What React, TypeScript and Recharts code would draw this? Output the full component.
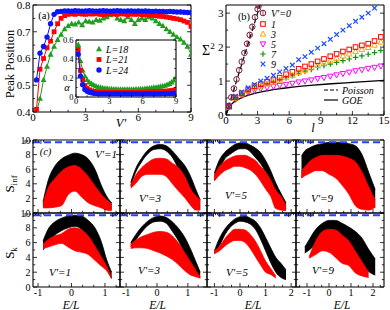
import React from 'react';
import { ComposedChart, Scatter, Line, Area, XAxis, YAxis, ReferenceLine, CartesianGrid } from 'recharts';

const FONT = '"Liberation Serif", "Times New Roman", serif';

// ---------- (a) peak position vs V' ----------
const V_GRID = [0.2, 0.4, 0.6, 0.8, 1.0, 1.2, 1.4, 1.6, 1.8, 2.0, 2.2, 2.4, 2.6, 2.8, 3.0, 3.2, 3.4, 3.6, 3.8, 4.0, 4.2, 4.4, 4.6, 4.8, 5.0, 5.2, 5.4, 5.6, 5.8, 6.0, 6.2, 6.4, 6.6, 6.8, 7.0, 7.2, 7.4, 7.6, 7.8, 8.0, 8.2, 8.4, 8.6, 8.8, 9.0];
const PEAK_L18 = [0.40, 0.45, 0.52, 0.57, 0.615, 0.645, 0.67, 0.69, 0.71, 0.722, 0.73, 0.728, 0.735, 0.725, 0.74, 0.738, 0.735, 0.745, 0.742, 0.75, 0.755, 0.762, 0.768, 0.75, 0.745, 0.74, 0.755, 0.745, 0.73, 0.745, 0.75, 0.745, 0.755, 0.75, 0.74, 0.73, 0.722, 0.71, 0.70, 0.69, 0.68, 0.672, 0.66, 0.645, 0.615];
const PEAK_L21 = [0.41, 0.56, 0.60, 0.64, 0.665, 0.70, 0.73, 0.75, 0.76, 0.765, 0.767, 0.765, 0.768, 0.766, 0.765, 0.767, 0.766, 0.768, 0.765, 0.764, 0.766, 0.768, 0.766, 0.765, 0.767, 0.766, 0.764, 0.766, 0.765, 0.766, 0.764, 0.763, 0.762, 0.762, 0.76, 0.758, 0.757, 0.755, 0.753, 0.75, 0.748, 0.745, 0.74, 0.735, 0.72];
const PEAK_L24 = [0.52, 0.62, 0.645, 0.68, 0.73, 0.765, 0.775, 0.776, 0.778, 0.778, 0.777, 0.779, 0.778, 0.777, 0.778, 0.779, 0.778, 0.777, 0.778, 0.779, 0.778, 0.777, 0.778, 0.779, 0.778, 0.777, 0.778, 0.778, 0.777, 0.778, 0.777, 0.778, 0.777, 0.776, 0.777, 0.776, 0.776, 0.775, 0.776, 0.775, 0.774, 0.774, 0.773, 0.772, 0.771];

// inset: alpha vs V'
const ALPHA_L18 = [0.55, 0.38, 0.28, 0.22, 0.18, 0.155, 0.14, 0.125, 0.115, 0.105, 0.1, 0.095, 0.09, 0.09, 0.085, 0.085, 0.082, 0.082, 0.08, 0.08, 0.08, 0.08, 0.08, 0.08, 0.08, 0.08, 0.082, 0.082, 0.085, 0.085, 0.088, 0.09, 0.092, 0.095, 0.1, 0.1, 0.105, 0.11, 0.115, 0.12, 0.13, 0.14, 0.155, 0.175, 0.21];
const ALPHA_L21 = [0.5, 0.28, 0.18, 0.12, 0.09, 0.075, 0.065, 0.06, 0.055, 0.052, 0.05, 0.05, 0.05, 0.048, 0.048, 0.048, 0.048, 0.048, 0.048, 0.048, 0.048, 0.048, 0.048, 0.048, 0.048, 0.048, 0.048, 0.048, 0.05, 0.05, 0.05, 0.052, 0.052, 0.052, 0.054, 0.055, 0.056, 0.058, 0.06, 0.06, 0.062, 0.065, 0.068, 0.072, 0.08];
const ALPHA_L24 = [0.45, 0.22, 0.13, 0.08, 0.06, 0.05, 0.045, 0.04, 0.038, 0.036, 0.035, 0.035, 0.034, 0.034, 0.034, 0.033, 0.033, 0.033, 0.033, 0.033, 0.033, 0.033, 0.033, 0.033, 0.033, 0.033, 0.033, 0.033, 0.033, 0.033, 0.033, 0.034, 0.034, 0.034, 0.034, 0.035, 0.035, 0.035, 0.036, 0.036, 0.037, 0.037, 0.038, 0.039, 0.04];

// ---------- (b) number variance vs l ----------
const L0_GRID = [0.25, 0.5, 0.75, 1, 1.25, 1.5, 1.75, 2, 2.25, 2.5, 2.75, 3, 3.1];
const SIG_V0 = [0.27, 0.52, 0.78, 1.05, 1.32, 1.57, 1.83, 2.1, 2.36, 2.6, 2.88, 3.12, 3.22];
const L_GRID = [0.3, 0.9, 1.5, 2.1, 2.7, 3.3, 3.9, 4.5, 5.1, 5.7, 6.3, 6.9, 7.5, 8.1, 8.7, 9.3, 9.9, 10.5, 11.1, 11.7, 12.3, 12.9, 13.5, 14.1, 14.7];
const SIG_V1 = [0.25, 0.52, 0.64, 0.75, 0.85, 0.91, 0.98, 1.03, 1.1, 1.2, 1.27, 1.36, 1.43, 1.5, 1.58, 1.65, 1.73, 1.8, 1.87, 1.93, 2.0, 2.05, 2.1, 2.18, 2.3];
const SIG_V3 = [0.24, 0.5, 0.62, 0.72, 0.8, 0.86, 0.92, 0.97, 1.03, 1.1, 1.17, 1.25, 1.32, 1.39, 1.46, 1.53, 1.6, 1.67, 1.74, 1.8, 1.87, 1.93, 1.99, 2.06, 2.15];
const SIG_V5 = [0.24, 0.46, 0.57, 0.66, 0.72, 0.77, 0.81, 0.84, 0.87, 0.9, 0.93, 0.97, 1.0, 1.03, 1.07, 1.1, 1.14, 1.18, 1.22, 1.26, 1.3, 1.33, 1.37, 1.4, 1.44];
const SIG_V7 = [0.24, 0.48, 0.6, 0.7, 0.78, 0.85, 0.92, 0.98, 1.04, 1.1, 1.16, 1.23, 1.29, 1.34, 1.4, 1.45, 1.5, 1.55, 1.6, 1.65, 1.7, 1.74, 1.79, 1.84, 1.9];
const SIG_V9 = [0.25, 0.55, 0.68, 0.8, 0.9, 1.0, 1.08, 1.17, 1.27, 1.37, 1.47, 1.63, 1.72, 1.85, 1.97, 2.1, 2.23, 2.37, 2.5, 2.63, 2.76, 2.88, 3.0, 3.15];
const POISSON_L = [0, 3.24];
const POISSON_S = [0, 3.24];
const GOE_L = [0, 0.3, 0.6, 1, 1.5, 2, 3, 4, 5, 6, 8, 10, 12, 15];
const GOE_S = [0, 0.22, 0.34, 0.43, 0.51, 0.57, 0.66, 0.72, 0.77, 0.81, 0.87, 0.92, 0.96, 1.02];

// ---------- (c) entanglement clouds vs E/L (envelopes of the black / red point clouds) ----------
const E_C1 = [-0.85, -0.7, -0.5, -0.3, -0.1, 0.1, 0.3, 0.5, 0.7, 0.9, 1.05, 1.2];
const E_C2 = [-0.85, -0.7, -0.5, -0.3, -0.1, 0.1, 0.3, 0.5, 0.7, 0.9, 1.1, 1.25, 1.4];
const E_C3 = [-1.0, -0.8, -0.6, -0.4, -0.2, 0, 0.2, 0.4, 0.6, 0.8, 1.0, 1.2, 1.4, 1.6, 1.8];
const E_C4 = [-1.25, -1.1, -0.9, -0.6, -0.3, 0, 0.3, 0.6, 0.9, 1.2, 1.5, 1.8, 2.1];

// S_inf, V'=1
const INF1_BH = [1.5, 4.4, 6.4, 7.4, 7.9, 8.2, 8.0, 7.4, 6.0, 3.7, 2.3, 1.4];
const INF1_BL = [1.0, 3.0, 4.3, 5.2, 5.8, 6.0, 5.5, 4.5, 3.0, 1.8, 1.0, 0.5];
const INF1_RH = [1.3, 3.4, 4.7, 5.7, 6.3, 6.5, 6.0, 5.0, 3.7, 2.5, 1.8, 1.2];
const INF1_RL = [0.7, 0.7, 0.8, 1.0, 2.5, 3.0, 2.2, 1.4, 1.0, 0.7, 0.4, 0.3];
// S_inf, V'=3
const INF3_BH = [4.2, 6.0, 7.5, 8.6, 9.2, 9.4, 9.2, 8.5, 7.5, 6.5, 4.9, 3.3, 1.8];
const INF3_BL = [3.7, 5.5, 7.0, 8.1, 8.7, 8.8, 8.5, 7.6, 6.0, 4.4, 2.5, 1.2, 0.6];
const INF3_RH = [3.8, 5.1, 6.2, 6.9, 7.4, 7.5, 7.4, 6.8, 6.2, 5.0, 3.2, 2.4, 1.8];
const INF3_RL = [3.4, 4.0, 5.0, 5.3, 5.3, 5.3, 5.0, 4.0, 3.0, 2.1, 1.0, 0.4, 0.4];
// S_inf, V'=5
const INF5_BH = [5.5, 7.3, 8.3, 8.9, 9.4, 9.6, 9.6, 9.3, 8.9, 8.3, 7.2, 5.8, 4.1, 2.7, 1.4];
const INF5_BL = [4.5, 6.0, 7.4, 8.0, 8.5, 8.8, 8.8, 8.4, 7.6, 6.8, 5.6, 4.2, 2.9, 1.5, 0.6];
const INF5_RH = [5.2, 6.4, 7.1, 7.5, 7.8, 7.9, 7.9, 7.6, 7.2, 6.4, 5.6, 4.5, 3.1, 2.3, 1.0];
const INF5_RL = [4.4, 5.2, 5.8, 6.1, 6.4, 6.4, 6.2, 5.9, 5.3, 4.4, 3.3, 2.3, 0.6, 0.4, 0.3];
// S_inf, V'=9
const INF9_BH = [7.8, 8.5, 8.9, 9.3, 9.5, 9.7, 9.7, 9.7, 9.5, 9.2, 8.0, 5.6, 3.2];
const INF9_BL = [4.8, 5.5, 6.0, 6.5, 7.0, 7.0, 6.8, 6.0, 4.8, 3.5, 2.2, 1.0, 0.8];
const INF9_RH = [5.8, 6.3, 7.0, 7.6, 7.9, 7.9, 7.9, 7.8, 7.5, 7.0, 5.6, 3.6, 1.8];
const INF9_RL = [4.8, 5.1, 5.4, 5.8, 5.8, 5.3, 4.8, 3.8, 2.6, 1.0, 0.5, 0.4, 0.8];
// S_k, V'=1
const K1_BH = [6.2, 7.8, 8.8, 9.3, 9.6, 9.7, 9.6, 9.0, 8.0, 6.0, 3.7, 2.0];
const K1_BL = [5.0, 6.0, 7.0, 7.6, 8.0, 8.2, 7.8, 6.5, 4.6, 3.4, 2.4, 1.2];
const K1_RH = [5.8, 6.4, 6.9, 7.2, 7.8, 8.0, 7.7, 6.9, 5.5, 4.0, 2.8, 1.3];
const K1_RL = [5.2, 5.4, 5.7, 5.9, 5.4, 4.9, 4.7, 4.4, 3.6, 2.8, 2.2, 1.1];
// S_k, V'=3
const K3_BH = [6.0, 7.0, 8.1, 8.9, 9.4, 9.6, 9.4, 8.8, 7.9, 6.7, 5.0, 3.5, 2.0];
const K3_BL = [5.4, 6.3, 7.4, 8.3, 8.8, 8.9, 8.6, 7.5, 6.2, 4.4, 2.9, 1.8, 1.2];
const K3_RH = [5.8, 6.3, 6.8, 7.1, 7.4, 7.5, 7.4, 6.9, 5.9, 4.6, 3.3, 2.3, 1.4];
const K3_RL = [5.2, 5.3, 5.3, 5.2, 4.9, 4.6, 4.2, 3.7, 3.0, 2.2, 1.6, 1.4, 1.2];
// S_k, V'=5
const K5_BH = [4.9, 6.6, 7.8, 8.6, 9.2, 9.5, 9.6, 9.3, 8.9, 8.0, 6.7, 5.3, 4.0, 3.2, 2.3];
const K5_BL = [4.5, 5.6, 7.0, 8.0, 8.6, 8.9, 8.8, 8.5, 7.8, 6.5, 4.9, 3.3, 2.0, 1.3, 1.0];
const K5_RH = [4.9, 5.5, 6.5, 7.3, 7.8, 7.8, 7.7, 7.1, 6.2, 4.9, 3.5, 2.5, 1.5, null, null];
const K5_RL = [4.5, 4.9, 5.5, 6.0, 6.3, 6.3, 6.0, 5.2, 4.1, 3.0, 2.0, 1.7, 1.2, null, null];
// S_k, V'=9
const K9_BH = [null, 5.4, 6.4, 7.8, 8.6, 9.0, 9.0, 8.6, 8.1, 7.5, 6.6, 5.1, 3.8];
const K9_BL = [null, 4.6, 5.0, 5.8, 6.8, 7.5, 7.3, 6.4, 5.2, 4.2, 3.0, 2.1, 1.6];
const K9_RH = [null, null, 4.1, 6.2, 7.5, 7.8, 7.7, 7.0, 6.2, 4.8, 3.4, 2.0, null];
const K9_RL = [null, null, 3.9, 4.4, 4.9, 4.7, 4.0, 3.2, 2.9, 1.9, 1.5, 1.3, null];

const PAGE_VALUE = 9.7;

const GREEN = '#1f9e1f';
const RED = '#ff0000';
const BLUE = '#0a14ff';
const ORANGE = '#ffa500';
const MAGENTA = '#ff00ff';
const GREEN_B = '#159015';
const BLUE_X = '#1a4dff';
const MAROON = '#7a1c3c';
const DASH_BLUE = '#2342ff';

type N = number | null;

const pts = (xs: number[], ys: number[]) => ys.map((y, i) => ({ x: xs[i], y }));

function bandRows(grid: number[], bh: N[], bl: N[], rh: N[], rl: N[]) {
  return grid.map((x, i) => ({
    x,
    bk: bh[i] == null || bl[i] == null ? null : [bl[i], bh[i]],
    rd: rh[i] == null || rl[i] == null ? null : [rl[i], rh[i]],
  }));
}

function Mark({ cx, cy, kind, color }: { cx?: number; cy?: number; kind: string; color: string }) {
  if (cx == null || cy == null || isNaN(cx) || isNaN(cy)) return null;
  switch (kind) {
    case 'tri':
      return <polygon points={`${cx},${cy - 3.2} ${cx - 3},${cy + 2.2} ${cx + 3},${cy + 2.2}`} fill={color} />;
    case 'sq':
      return <rect x={cx - 2.4} y={cy - 2.4} width={4.8} height={4.8} fill={color} />;
    case 'dot':
      return <circle cx={cx} cy={cy} r={2.7} fill={color} />;
    case 'osq':
      return <rect x={cx - 2.3} y={cy - 2.3} width={4.6} height={4.6} fill="none" stroke={color} strokeWidth={1} />;
    case 'otri':
      return <polygon points={`${cx},${cy - 3} ${cx - 2.8},${cy + 2.1} ${cx + 2.8},${cy + 2.1}`} fill="none" stroke={color} strokeWidth={1} />;
    case 'odtri':
      return <polygon points={`${cx},${cy + 3} ${cx - 2.8},${cy - 2.1} ${cx + 2.8},${cy - 2.1}`} fill="none" stroke={color} strokeWidth={1} />;
    case 'plus':
      return <path d={`M${cx - 2.8},${cy}H${cx + 2.8}M${cx},${cy - 2.8}V${cy + 2.8}`} stroke={color} strokeWidth={1.2} />;
    case 'x':
      return <path d={`M${cx - 2.3},${cy - 2.3}L${cx + 2.3},${cy + 2.3}M${cx - 2.3},${cy + 2.3}L${cx + 2.3},${cy - 2.3}`} stroke={color} strokeWidth={1.2} />;
    case 'ocirc':
      return (
        <g>
          <circle cx={cx} cy={cy} r={2.8} fill="none" stroke={color} strokeWidth={1} />
          <path d={`M${cx},${cy - 2.8}V${cy + 2.8}`} stroke={color} strokeWidth={0.8} />
        </g>
      );
  }
  return null;
}

const mk = (kind: string, color: string) => (p: any) => <Mark cx={p.cx} cy={p.cy} kind={kind} color={color} />;

const near = (arr: number[], v: number) => arr.some((m) => Math.abs(m - v) < 1e-6);

// inward ticks, like the original physics-style frame
function tickRenderer(side: string, major: number[], label: number[], fs: number, len: number, fmt?: (v: number) => string) {
  return (props: any) => {
    const { x, y, payload } = props;
    const v = Number(payload.value);
    const L = near(major, v) ? len : len * 0.55;
    const t = fmt ? fmt(v) : String(v);
    const show = near(label, v);
    let d = '';
    let txt: React.ReactNode = null;
    if (side === 'left') {
      d = `M${x},${y}h${L}`;
      if (show) txt = <text x={x - 2.5} y={y} dy="0.35em" textAnchor="end" fontSize={fs} fill="#000">{t}</text>;
    } else if (side === 'right') {
      d = `M${x},${y}h${-L}`;
    } else if (side === 'top') {
      d = `M${x},${y}v${L}`;
    } else {
      d = `M${x},${y}v${-L}`;
      if (show) txt = <text x={x} y={y + 0.5} dy="0.8em" textAnchor="middle" fontSize={fs} fill="#000">{t}</text>;
    }
    return (
      <g>
        <path d={d} stroke="#000" strokeWidth={0.8} fill="none" />
        {txt}
      </g>
    );
  };
}

type AxSpec = {
  xd: [number, number];
  yd: [number, number];
  xt: number[];
  yt: number[];
  xMaj: number[];
  yMaj: number[];
  xLab: number[];
  yLab: number[];
  fs: number;
  len: number;
  xfmt?: (v: number) => string;
  yfmt?: (v: number) => string;
  yKey?: string;
};

// each axis takes 1px (an axis of size 0 is not drawn), margins are shrunk by 1 to compensate
function frame(s: AxSpec) {
  const base = {
    type: 'number' as const,
    allowDataOverflow: true,
    tickSize: 0,
    tickMargin: 0,
    interval: 0 as const,
    tickLine: false,
    axisLine: { stroke: '#000', strokeWidth: 1.1 },
  };
  return [
    <XAxis key="xb" dataKey="x" orientation="bottom" height={1} domain={s.xd} ticks={s.xt} tick={tickRenderer('bottom', s.xMaj, s.xLab, s.fs, s.len, s.xfmt)} {...base} />,
    <XAxis key="xt" xAxisId="top" orientation="top" height={1} domain={s.xd} ticks={s.xt} tick={tickRenderer('top', s.xMaj, [], s.fs, s.len)} {...base} />,
    <YAxis key="yl" dataKey={s.yKey} width={1} domain={s.yd} ticks={s.yt} tick={tickRenderer('left', s.yMaj, s.yLab, s.fs, s.len, s.yfmt)} {...base} />,
    <YAxis key="yr" yAxisId="right" orientation="right" width={1} domain={s.yd} ticks={s.yt} tick={tickRenderer('right', s.yMaj, [], s.fs, s.len)} {...base} />,
  ];
}

const m1 = (top: number, right: number, bottom: number, left: number) => ({ top: top - 1, right: right - 1, bottom: bottom - 1, left: left - 1 });

const fmt1 = (v: number) => v.toFixed(1);
const fmtInset = (v: number) => (v === 0 ? '0' : v.toFixed(1));

function PanelA() {
  return (
    <div style={{ position: 'absolute', left: 0, top: 0 }}>
      <ComposedChart width={200} height={130} margin={m1(5, 9, 18, 33)}>
        {frame({
          xd: [0, 9], yd: [0.4, 0.8],
          xt: [0, 1, 2, 3, 4, 5, 6, 7, 8, 9], xMaj: [0, 3, 6, 9], xLab: [0, 3, 6, 9],
          yt: [0.4, 0.45, 0.5, 0.55, 0.6, 0.65, 0.7, 0.75, 0.8], yMaj: [0.4, 0.5, 0.6, 0.7, 0.8], yLab: [0.4, 0.5, 0.6, 0.7, 0.8],
          fs: 11, len: 4, yfmt: fmt1, yKey: 'y',
        })}
        <Scatter data={pts(V_GRID, PEAK_L18)} dataKey="y" fill={GREEN} line={{ stroke: GREEN, strokeWidth: 1 }} shape={mk('tri', GREEN)} isAnimationActive={false} />
        <Scatter data={pts(V_GRID, PEAK_L21)} dataKey="y" fill={RED} line={{ stroke: RED, strokeWidth: 1 }} shape={mk('sq', RED)} isAnimationActive={false} />
        <Scatter data={pts(V_GRID, PEAK_L24)} dataKey="y" fill={BLUE} line={{ stroke: BLUE, strokeWidth: 1 }} shape={mk('dot', BLUE)} isAnimationActive={false} />
      </ComposedChart>
    </div>
  );
}

function InsetA() {
  return (
    <div style={{ position: 'absolute', left: 56, top: 36 }}>
      <ComposedChart width={126} height={76} margin={m1(4, 6, 15, 20)}>
        <CartesianGrid fill="#fff" fillOpacity={1} stroke="none" horizontal={false} vertical={false} />
        {frame({
          xd: [0, 9], yd: [0, 0.6],
          xt: [0, 1, 2, 3, 4, 5, 6, 7, 8, 9], xMaj: [0, 3, 6, 9], xLab: [0, 3, 6, 9],
          yt: [0, 0.1, 0.2, 0.3, 0.4, 0.5, 0.6], yMaj: [0, 0.2, 0.4, 0.6], yLab: [0, 0.2, 0.4, 0.6],
          fs: 8.5, len: 3, yfmt: fmtInset, yKey: 'y',
        })}
        <Scatter data={pts(V_GRID, ALPHA_L18)} dataKey="y" fill={GREEN} line={{ stroke: GREEN, strokeWidth: 1 }} shape={mk('tri', GREEN)} isAnimationActive={false} />
        <Scatter data={pts(V_GRID, ALPHA_L21)} dataKey="y" fill={RED} line={{ stroke: RED, strokeWidth: 1 }} shape={mk('sq', RED)} isAnimationActive={false} />
        <Scatter data={pts(V_GRID, ALPHA_L24)} dataKey="y" fill={BLUE} line={{ stroke: BLUE, strokeWidth: 1 }} shape={mk('dot', BLUE)} isAnimationActive={false} />
      </ComposedChart>
    </div>
  );
}

function PanelB() {
  return (
    <div style={{ position: 'absolute', left: 200, top: 0 }}>
      <ComposedChart width={190} height={135} margin={m1(5, 6, 20, 26)}>
        {frame({
          xd: [0, 15], yd: [0, 3.24],
          xt: [0, 1.5, 3, 4.5, 6, 7.5, 9, 10.5, 12, 13.5, 15], xMaj: [0, 3, 6, 9, 12, 15], xLab: [0, 3, 6, 9, 12, 15],
          yt: [0, 0.5, 1, 1.5, 2, 2.5, 3], yMaj: [0, 1, 2, 3], yLab: [0, 1, 2, 3],
          fs: 11, len: 4, yKey: 'y',
        })}
        <Line data={pts(POISSON_L, POISSON_S)} dataKey="y" stroke="#000" strokeWidth={1.2} strokeDasharray="5 3" dot={false} activeDot={false} isAnimationActive={false} />
        <Line data={pts(GOE_L, GOE_S)} dataKey="y" type="monotone" stroke="#000" strokeWidth={1.3} dot={false} activeDot={false} isAnimationActive={false} />
        <Scatter data={pts(L_GRID, SIG_V5)} dataKey="y" fill={MAGENTA} shape={mk('odtri', MAGENTA)} isAnimationActive={false} />
        <Scatter data={pts(L_GRID, SIG_V7)} dataKey="y" fill={GREEN_B} shape={mk('plus', GREEN_B)} isAnimationActive={false} />
        <Scatter data={pts(L_GRID, SIG_V3)} dataKey="y" fill={ORANGE} shape={mk('otri', ORANGE)} isAnimationActive={false} />
        <Scatter data={pts(L_GRID, SIG_V1)} dataKey="y" fill={RED} shape={mk('osq', RED)} isAnimationActive={false} />
        <Scatter data={pts(L_GRID, SIG_V9)} dataKey="y" fill={BLUE_X} shape={mk('x', BLUE_X)} isAnimationActive={false} />
        <Scatter data={pts(L0_GRID, SIG_V0)} dataKey="y" fill={MAROON} shape={mk('ocirc', MAROON)} isAnimationActive={false} />
      </ComposedChart>
    </div>
  );
}

const THIRDS_A = [-1, -0.667, -0.333, 0, 0.333, 0.667, 1, 1.333];
const THIRDS_B = [-1, -0.667, -0.333, 0, 0.333, 0.667, 1, 1.333, 1.667, 2];
const THIRDS_C = [-1.333, -1, -0.667, -0.333, 0, 0.333, 0.667, 1, 1.333, 1.667, 2, 2.333];

const COLS = [
  { left: 33, w: 87, xd: [-1.15, 1.45] as [number, number], xt: THIRDS_A, xMaj: [-1, 0, 1] },
  { left: 120, w: 87, xd: [-1.2, 1.62] as [number, number], xt: THIRDS_A, xMaj: [-1, 0, 1] },
  { left: 207, w: 89, xd: [-1.29, 2.19] as [number, number], xt: THIRDS_B, xMaj: [-1, 0, 1, 2] },
  { left: 296, w: 88, xd: [-1.5, 2.5] as [number, number], xt: THIRDS_C, xMaj: [-1, 0, 1, 2] },
];
const ROWS = [
  { top: 140, h: 73 },
  { top: 213, h: 74 },
];

const TOP_DATA = [
  bandRows(E_C1, INF1_BH, INF1_BL, INF1_RH, INF1_RL),
  bandRows(E_C2, INF3_BH, INF3_BL, INF3_RH, INF3_RL),
  bandRows(E_C3, INF5_BH, INF5_BL, INF5_RH, INF5_RL),
  bandRows(E_C4, INF9_BH, INF9_BL, INF9_RH, INF9_RL),
];
const BOTTOM_DATA = [
  bandRows(E_C1, K1_BH, K1_BL, K1_RH, K1_RL),
  bandRows(E_C2, K3_BH, K3_BL, K3_RH, K3_RL),
  bandRows(E_C3, K5_BH, K5_BL, K5_RH, K5_RL),
  bandRows(E_C4, K9_BH, K9_BL, K9_RH, K9_RL),
];

function SubPanel({ col, row, data }: { col: number; row: number; data: any[] }) {
  const c = COLS[col];
  const r = ROWS[row];
  const ML = 24, MT = 8, MR = 4, MB = 16;
  const yLab = col !== 0 ? [] : row === 0 ? [2, 4, 6, 8, 10] : [0, 2, 4, 6, 8, 10];
  const xLab = row === 1 ? c.xMaj : [];
  return (
    <div style={{ position: 'absolute', left: c.left - ML, top: r.top - MT }}>
      <ComposedChart width={c.w + ML + MR} height={r.h + MT + MB} margin={m1(MT, MR, MB, ML)} data={data}>
        {frame({
          xd: c.xd, yd: [0, 10],
          xt: c.xt, xMaj: c.xMaj, xLab,
          yt: [0, 1, 2, 3, 4, 5, 6, 7, 8, 9, 10], yMaj: [0, 2, 4, 6, 8, 10], yLab,
          fs: 10, len: 4,
        })}
        <Area dataKey="bk" type="monotone" fill="#000" fillOpacity={1} stroke="#000" strokeWidth={0.8} dot={false} activeDot={false} isAnimationActive={false} />
        <Area dataKey="rd" type="monotone" fill={RED} fillOpacity={1} stroke={RED} strokeWidth={0.8} dot={false} activeDot={false} isAnimationActive={false} />
        <ReferenceLine y={PAGE_VALUE} stroke={DASH_BLUE} strokeWidth={2} strokeDasharray="7 4" />
      </ComposedChart>
    </div>
  );
}

function Overlay() {
  const it = { fontStyle: 'italic' as const };
  const bLegend = [
    { kind: 'ocirc', color: MAROON, label: "V'=0" },
    { kind: 'osq', color: RED, label: '1' },
    { kind: 'otri', color: ORANGE, label: '3' },
    { kind: 'odtri', color: MAGENTA, label: '5' },
    { kind: 'plus', color: GREEN_B, label: '7' },
    { kind: 'x', color: BLUE_X, label: '9' },
  ];
  const bRows = [13, 24, 34, 44, 54, 64];
  const aLegend = [
    { kind: 'tri', color: GREEN, label: 'L=18', y: 49 },
    { kind: 'sq', color: RED, label: 'L=21', y: 59.5 },
    { kind: 'dot', color: BLUE, label: 'L=24', y: 70 },
  ];
  const vLabels = [
    { x: 106, y: 158, t: "V'=1" },
    { x: 150, y: 201.5, t: "V'=3" },
    { x: 236, y: 198.5, t: "V'=5" },
    { x: 322, y: 201.5, t: "V'=9" },
    { x: 60, y: 275.5, t: "V'=1" },
    { x: 149, y: 273.5, t: "V'=3" },
    { x: 237, y: 275.5, t: "V'=5" },
    { x: 323, y: 273.5, t: "V'=9" },
  ];
  return (
    <svg width={390} height={310} style={{ position: 'absolute', left: 0, top: 0, pointerEvents: 'none', fontFamily: FONT }}>
      {/* (a) */}
      <text x={44} y={19} fontSize={10.5} textAnchor="middle">(a)</text>
      <text transform="translate(14,64) rotate(-90)" fontSize={12.5} textAnchor="middle">Peak Position</text>
      <text x={121} y={127} fontSize={12.5} textAnchor="middle" {...it}>V'</text>
      <text x={67} y={91} fontSize={10.5} textAnchor="middle" {...it}>α</text>
      {aLegend.map((l) => (
        <g key={l.label}>
          <Mark cx={99} cy={l.y} kind={l.kind} color={l.color} />
          <text x={106} y={l.y + 3.5} fontSize={10} {...it}>{l.label}</text>
        </g>
      ))}
      {/* (b) */}
      <text x={244} y={20} fontSize={10.5} textAnchor="middle">(b)</text>
      <text x={202} y={55} fontSize={14}>Σ<tspan dy={-6} fontSize={9}>2</tspan></text>
      <text x={313} y={132} fontSize={12.5} textAnchor="middle" {...it}>l</text>
      {bLegend.map((l, i) => (
        <g key={l.label}>
          <Mark cx={263} cy={bRows[i]} kind={l.kind} color={l.color} />
          <text x={271} y={bRows[i] + 3.5} fontSize={10} {...it}>{l.label}</text>
        </g>
      ))}
      <path d="M324,90H338" stroke="#000" strokeWidth={1.2} strokeDasharray="4 2" />
      <text x={342} y={93.5} fontSize={10} {...it}>Poisson</text>
      <path d="M324,100H338" stroke="#000" strokeWidth={1.2} />
      <text x={342} y={103.5} fontSize={10} {...it}>GOE</text>
      {/* (c) */}
      <text x={45.5} y={155} fontSize={10.5} textAnchor="middle" {...it}>(c)</text>
      {vLabels.map((v, i) => (
        <text key={i} x={v.x} y={v.y} fontSize={11} textAnchor="middle" {...it}>{v.t}</text>
      ))}
      <text transform="translate(14,184) rotate(-90)" fontSize={13} textAnchor="middle">S<tspan dy={3} fontSize={9}>inf</tspan></text>
      <text transform="translate(14,253) rotate(-90)" fontSize={13} textAnchor="middle">S<tspan dy={3} fontSize={9}>k</tspan></text>
      {[71, 157.5, 253, 342].map((x) => (
        <text key={x} x={x} y={308.5} fontSize={11.5} textAnchor="middle" {...it}>E/L</text>
      ))}
    </svg>
  );
}

export default function App() {
  return (
    <div style={{ position: 'absolute', left: 0, top: 0, width: 390, height: 310, background: '#fff', fontFamily: FONT, overflow: 'hidden' }}>
      <PanelA />
      <InsetA />
      <PanelB />
      {TOP_DATA.map((d, i) => <SubPanel key={'t' + i} col={i} row={0} data={d} />)}
      {BOTTOM_DATA.map((d, i) => <SubPanel key={'b' + i} col={i} row={1} data={d} />)}
      <Overlay />
    </div>
  );
}
